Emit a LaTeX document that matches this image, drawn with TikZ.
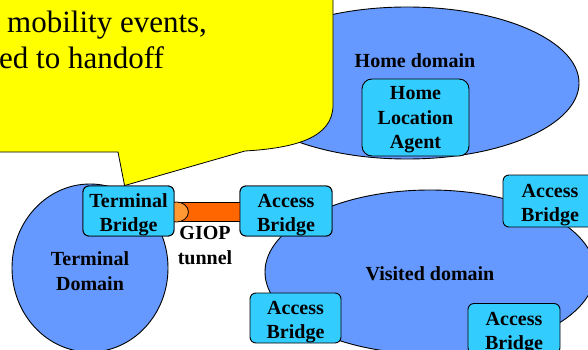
\documentclass[tikz,border=0pt]{standalone}
\usepackage{fontspec}
\setmainfont{Liberation Serif}
\usetikzlibrary{shapes.geometric,calc}

\definecolor{domainblue}{RGB}{102,153,255}
\definecolor{bridgecyan}{RGB}{51,204,255}
\definecolor{pipeorange}{RGB}{255,102,0}
\definecolor{pipecap}{RGB}{255,153,51}
\definecolor{noteyellow}{RGB}{255,255,0}

\tikzset{
  domainshape/.style={ellipse, draw=black, line width=0.9pt, fill=domainblue, inner sep=0pt},
  % fixed text height and depth set where the lines sit inside the box
  bridgebox/.style={rectangle, rounded corners=6pt, draw=black, line width=0.9pt,
    fill=bridgecyan, inner sep=0pt, align=center, text height=41pt, text depth=0pt,
    font=\fontsize{20}{24}\selectfont\bfseries},
  lbl/.style={inner sep=0pt, align=center, font=\fontsize{20}{24.5}\selectfont\bfseries},
  notetext/.style={inner sep=0pt, anchor=base west, font=\fontsize{31}{36}\selectfont},
}

\begin{document}
\begin{tikzpicture}[x=1pt, y=-1pt]
  \useasboundingbox (0,0) rectangle (588,350);
  \clip (0,0) rectangle (588,350);

  % home domain with its location agent
  \node[domainshape, minimum width=344pt, minimum height=152pt] (home) at (407,83) {};
  \node[lbl] (homelbl) at (415,61) {Home domain};
  \node[bridgebox, rounded corners=10pt, minimum width=107pt, minimum height=77pt,
    text height=62.5pt] (hla) at (415.5,117.5) {Home\\[0.5pt]Location\\[0.5pt]Agent};

  % terminal and visited domains
  \node[domainshape, minimum width=156pt, minimum height=168pt] (termdom) at (90,268) {};
  \node[lbl] (termlbl) at (90,271) {Terminal\\Domain};
  \node[domainshape, minimum width=330pt, minimum height=164pt] (visdom) at (430,272) {};
  \node[lbl] (vislbl) at (430,273.5) {Visited domain};

  % bridges
  \node[bridgebox, minimum width=91pt, minimum height=50pt] (tb) at (128.5,211) {Terminal\\Bridge};
  \node[bridgebox, minimum width=92pt, minimum height=50pt] (ab1) at (286,211) {Access\\Bridge};
  \node[bridgebox, minimum width=94pt, minimum height=52pt] (ab2) at (550,201) {Access\\Bridge};
  \node[bridgebox, minimum width=91pt, minimum height=50pt] (ab3) at (295.5,318) {Access\\Bridge};
  \node[bridgebox, minimum width=92pt, minimum height=50pt] (ab4) at (514,328.5) {Access\\Bridge};

  % GIOP tunnel between terminal bridge and access bridge
  \draw[line width=0.8pt, fill=pipeorange]
    ($(tb.east)+(1,-9)$) rectangle ($(ab1.west)+(1,10)$);
  \draw[line width=0.8pt, fill=pipecap] ($(tb.east)+(2,1)$) ellipse [x radius=12pt, y radius=10pt];
  % bridges drawn again over the pipe ends
  \node[bridgebox, minimum width=91pt, minimum height=50pt] at (tb) {Terminal\\Bridge};
  \node[bridgebox, minimum width=92pt, minimum height=50pt] at (ab1) {Access\\Bridge};
  \node[lbl] (giop) at (205,245.5) {GIOP\\tunnel};

  % callout pointing at the terminal bridge
  \coordinate (tip) at ($(tb.north west)+(42,0)$);
  \draw[line width=0.8pt, fill=noteyellow]
    (-20,152) -- (118,152) -- (tip) -- (245,151)
    .. controls (295,148) and (333,138) .. (333,105)
    -- (333,-20) -- (-20,-20) -- cycle;
  \node[notetext] (note2) at (7,33) {mobility events,};
  \node[notetext] (note3) at (-1,69) {ed to handoff};
\end{tikzpicture}
\end{document}
